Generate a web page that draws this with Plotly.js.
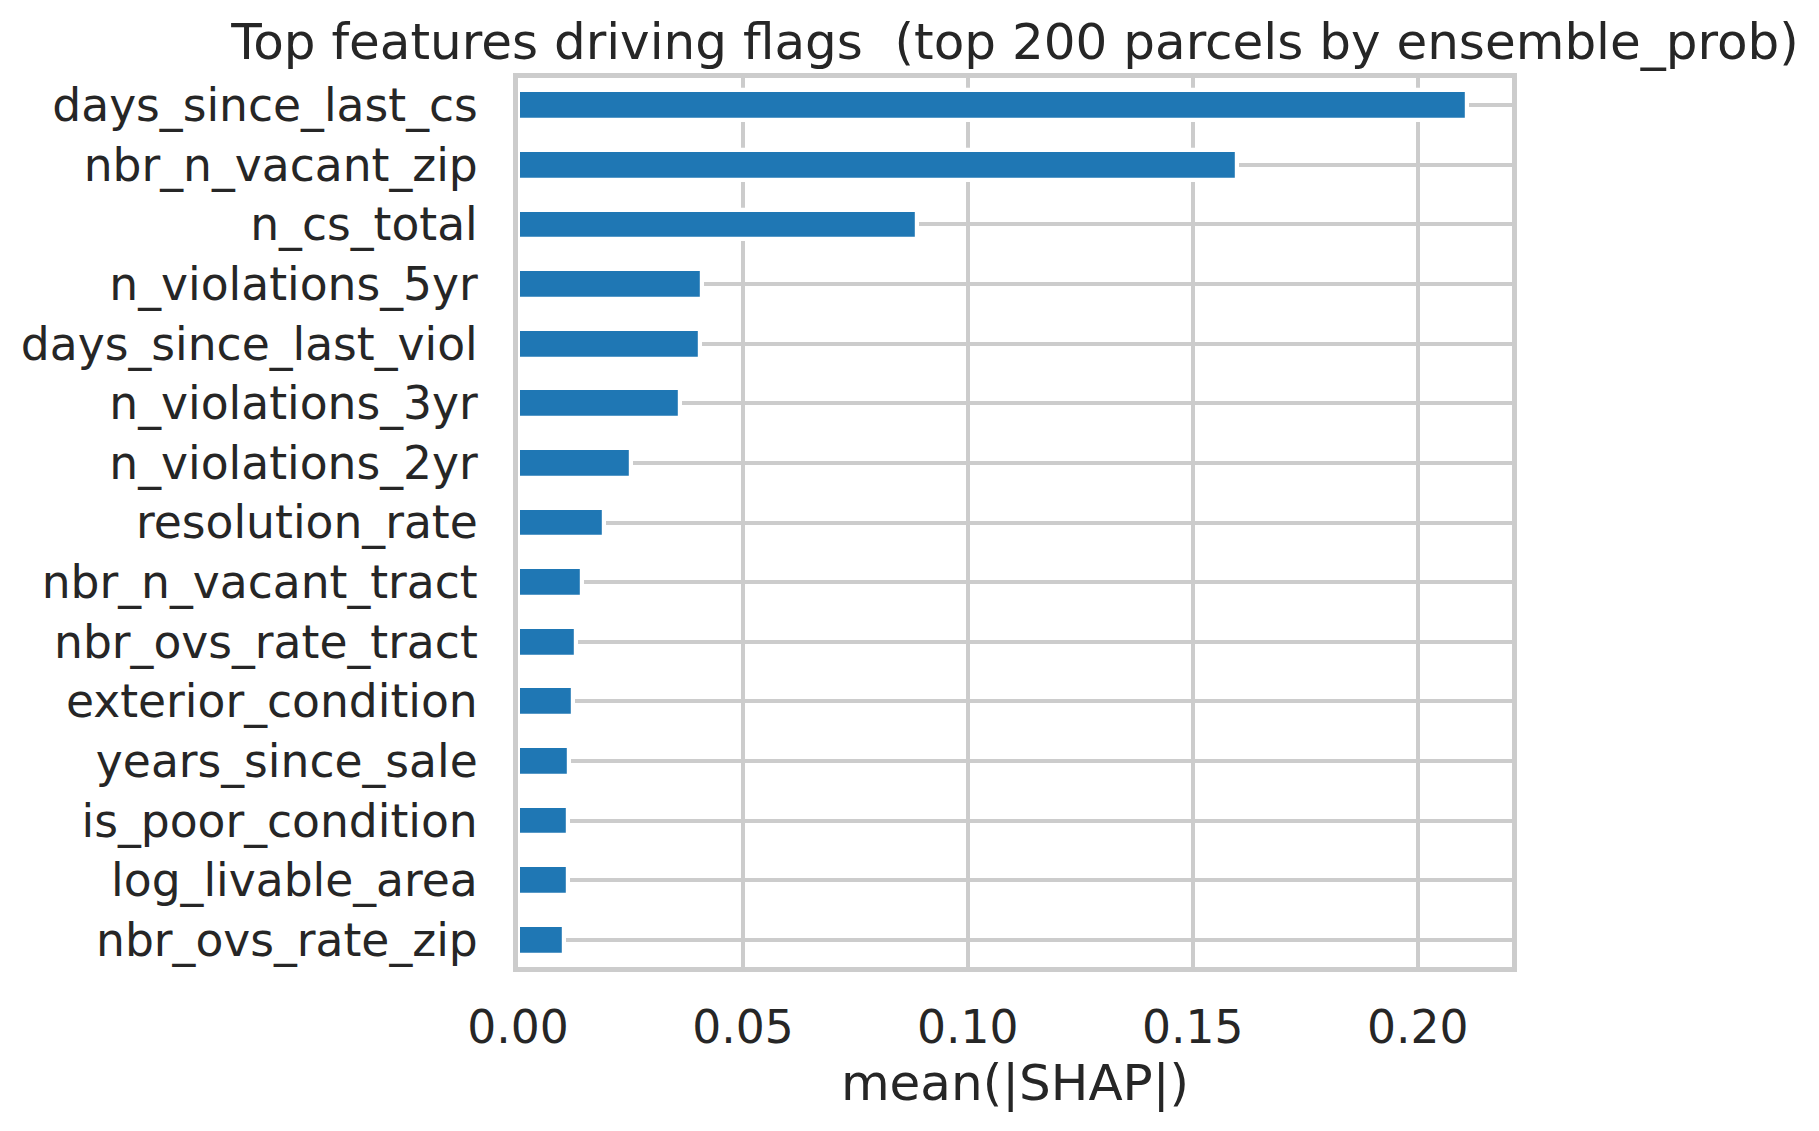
<!DOCTYPE html>
<html>
<head>
<meta charset="utf-8">
<script src="https://cdn.plot.ly/plotly-3.0.1.min.js"></script>
<style>
  html, body { margin: 0; padding: 0; background: #ffffff; }
  #chart { width: 1819px; height: 1131px; }
</style>
</head>
<body>
<div id="chart"></div>
<script>
// Feature names, most important first
const features = [
  "days_since_last_cs",
  "nbr_n_vacant_zip",
  "n_cs_total",
  "n_violations_5yr",
  "days_since_last_viol",
  "n_violations_3yr",
  "n_violations_2yr",
  "resolution_rate",
  "nbr_n_vacant_tract",
  "nbr_ovs_rate_tract",
  "exterior_condition",
  "years_since_sale",
  "is_poor_condition",
  "log_livable_area",
  "nbr_ovs_rate_zip"
];

// mean(|SHAP|) for each feature, same order
const meanAbsShap = [
  0.2110, 0.1598, 0.0886, 0.0409, 0.0404,
  0.0360, 0.0252, 0.0192, 0.0143, 0.0128,
  0.0123, 0.0114, 0.0112, 0.0112, 0.0103
];

const xTicks = [0.00, 0.05, 0.10, 0.15, 0.20];

const TEXT = "#262626";
const GRID = "#cccccc";
const FONT = "DejaVu Sans, Liberation Sans, sans-serif";

// bottom-to-top order for the horizontal bar chart
const yOrder = features.slice().reverse();
const xOrder = meanAbsShap.slice().reverse();

// frame geometry: spine centre lines and spine width (px)
const W = 1819, H = 1131;
const frameL = 515.3, frameR = 1515, frameT = 75, frameB = 970;
const spineW = 5.2, half = spineW / 2;

// x limits with a 5% margin past the longest bar; y spans one row per feature
const xMax = Math.max(...meanAbsShap) * 1.05;
const pxPerX = (frameR - frameL) / xMax;
const pxPerRow = (frameB - frameT) / yOrder.length;
const xRange = [0, xMax - half / pxPerX];
const yRange = [-0.5 + half / pxPerRow, yOrder.length - 0.5 - half / pxPerRow];

const trace = {
  type: "bar",
  orientation: "h",
  x: xOrder,
  y: yOrder,
  width: 0.5,
  marker: { color: "#1f77b4", line: { color: "#ffffff", width: 4.2 } },
  hoverinfo: "x+y"
};

const layout = {
  width: W,
  height: H,
  paper_bgcolor: "#ffffff",
  plot_bgcolor: "#ffffff",
  font: { family: FONT, color: TEXT, size: 45.6 },
  margin: {
    l: frameL + half,
    r: W - (frameR - half),
    t: frameT + half,
    b: H - (frameB - half),
    pad: 0
  },
  showlegend: false,
  bargap: 0,
  title: {
    text: "Top features driving flags  (top 200 parcels by ensemble_prob)",
    font: { family: FONT, size: 50, color: TEXT },
    xref: "paper", x: 0.5, xanchor: "center",
    yref: "container", y: 1 - 41 / H, yanchor: "middle"
  },
  xaxis: {
    range: xRange,
    tickvals: xTicks,
    tickformat: ".2f",
    showgrid: true, gridcolor: GRID, gridwidth: 4.2,
    zeroline: false,
    showline: true, linecolor: GRID, linewidth: spineW, mirror: true,
    ticks: "", ticklabelstandoff: 16,
    tickfont: { family: FONT, size: 45.6, color: TEXT },
    title: { text: "mean(|SHAP|)", font: { family: FONT, size: 50, color: TEXT }, standoff: 12 },
    automargin: false
  },
  yaxis: {
    type: "category",
    categoryorder: "array",
    categoryarray: yOrder,
    range: yRange,
    showgrid: true, gridcolor: GRID, gridwidth: 4.2,
    zeroline: false,
    showline: true, linecolor: GRID, linewidth: spineW, mirror: true,
    ticks: "", ticklabelstandoff: 26,
    tickfont: { family: FONT, size: 45.6, color: TEXT },
    automargin: false
  }
};

Plotly.newPlot("chart", [trace], layout, { displayModeBar: false, responsive: false });
</script>
</body>
</html>
